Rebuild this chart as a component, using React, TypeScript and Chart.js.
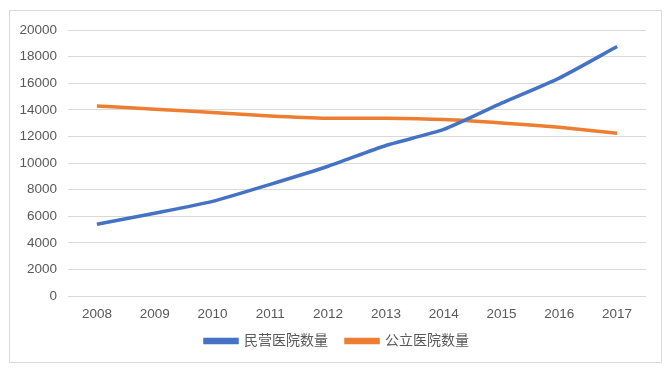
import React, { useEffect, useRef } from "react";
import { Chart, registerables } from "chart.js";

Chart.register(...registerables);

const categories = ["2008", "2009", "2010", "2011", "2012", "2013", "2014", "2015", "2016", "2017"];
const privateHospitals = [5400, 6230, 7120, 8400, 9760, 11320, 12530, 14500, 16390, 18760];
const publicHospitals = [14300, 14050, 13800, 13540, 13370, 13370, 13270, 13020, 12690, 12250];
const seriesNames = ["民营医院数量", "公立医院数量"];
const yTicks = { min: 0, max: 20000, step: 2000 };

const FONT = '"Liberation Sans", "Noto Sans CJK SC", sans-serif';

const legendShift = {
  id: "legendShift",
  afterLayout(chart: any) {
    const lg = chart.legend;
    if (lg) {
      lg.left += 9;
      lg.right += 9;
      lg.top -= 8;
      lg.bottom -= 8;
    }
  },
};

export default function App() {
  const ref = useRef<HTMLCanvasElement | null>(null);
  useEffect(() => {
    if (!ref.current) return;
    const chart = new Chart(ref.current, {
      type: "line",
      data: {
        labels: categories,
        datasets: [
          {
            label: seriesNames[0],
            data: privateHospitals,
            borderColor: "#4472C4",
            backgroundColor: "#4472C4",
            borderWidth: 3.5,
            pointRadius: 0,
            tension: 0.2,
          },
          {
            label: seriesNames[1],
            data: publicHospitals,
            borderColor: "#ED7D31",
            backgroundColor: "#ED7D31",
            borderWidth: 3.5,
            pointRadius: 0,
            tension: 0.2,
          },
        ],
      },
      options: {
        animation: false,
        responsive: false,
        maintainAspectRatio: false,
        layout: { padding: { top: 16, right: 15, bottom: -4, left: 0 } },
        plugins: {
          tooltip: { enabled: false },
          legend: {
            position: "bottom",
            labels: {
              boxWidth: 32,
              boxHeight: 3,
              padding: 18,
              color: "#595959",
              font: { family: FONT, size: 14 },
            },
          },
        },
        scales: {
          x: {
            offset: true,
            grid: { display: false, drawTicks: false },
            border: { display: false },
            ticks: { color: "#595959", padding: 10, font: { family: FONT, size: 13.5 }, maxRotation: 0 },
            afterFit: (s: any) => {
              s.height = 28;
            },
          },
          y: {
            min: yTicks.min,
            max: yTicks.max,
            ticks: {
              stepSize: yTicks.step,
              color: "#595959",
              padding: 11,
              font: { family: FONT, size: 13.5 },
              callback: (v: any) => String(v),
            },
            grid: { color: "#d9d9d9", drawTicks: false, lineWidth: 1 },
            border: { display: false },
            afterFit: (s: any) => {
              s.width = 58;
            },
          },
        },
      },
      plugins: [legendShift],
    });
    return () => chart.destroy();
  }, []);
  return (
    <div
      style={{
        position: "absolute",
        left: 9,
        top: 10,
        width: 651,
        height: 351,
        border: "1px solid #d9d9d9",
        background: "#fff",
      }}
    >
      <canvas ref={ref} width={651} height={351} style={{ display: "block" }} />
    </div>
  );
}
